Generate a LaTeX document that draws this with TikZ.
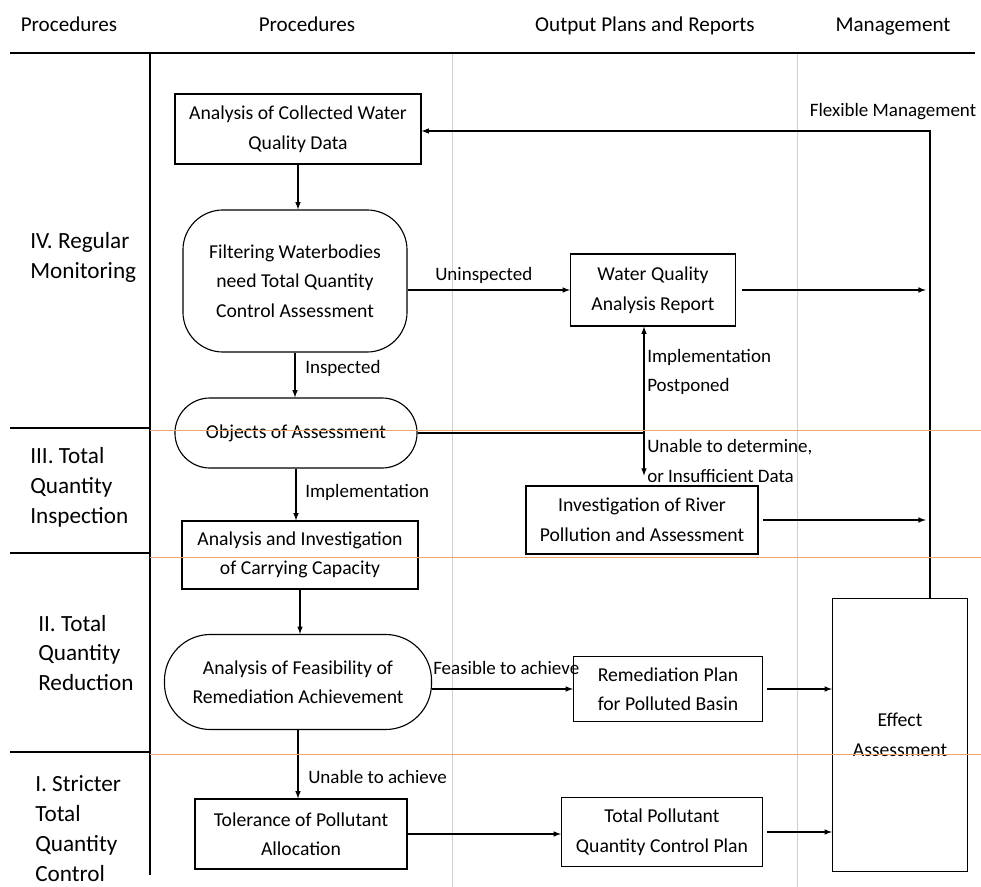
\documentclass[tikz,border=0pt]{standalone}
\usepackage{fontspec}
\setmainfont{Carlito}
\definecolor{rowline}{RGB}{238,165,115}
\definecolor{colline}{RGB}{208,208,208}
\tikzset{
  box/.style={draw, line width=0.8pt, align=center, inner sep=2pt, font=\fontsize{14}{21}\selectfont},
  lbl/.style={font=\fontsize{13.5}{21}\selectfont, inner sep=0pt, align=left},
  head/.style={font=\fontsize{15}{18}\selectfont, inner sep=0pt, anchor=base},
  stage/.style={font=\fontsize{16.5}{21.3}\selectfont, align=left, anchor=west, inner sep=0pt},
  link/.style={line width=0.8pt, ->},
}
\begin{document}
\begin{tikzpicture}[>=latex, x=0.025cm, y=-0.025cm]
\pgfmathsetmacro\mx{930}
\pgfmathsetmacro\jx{644}
\useasboundingbox (0,0) rectangle (981,887);
% table
\draw[colline, line width=0.6pt] (452,53) -- (452,887);
\draw[colline, line width=0.6pt] (797,53) -- (797,887);
\draw[line width=0.8pt] (10,53) -- (975,53);
\draw[line width=0.8pt] (150,53) -- (150,875);
\foreach \y in {428,553,752}
  \draw[line width=0.8pt] (10,\y) -- (150,\y);
\node[head] (hproc) at (69,32) {Procedures};
\node[head] (hsteps) at (307,32) {Procedures};
\node[head] (hout) at (645,32) {Output Plans and Reports};
\node[head] (hman) at (893,32) {Management};
\node[stage] (s4) at (30,257) {IV. Regular\\Monitoring};
\node[stage] (s3) at (30,487) {III. Total\\Quantity\\Inspection};
\node[stage] (s2) at (38,653) {II. Total\\Quantity\\Reduction};
\node[stage] (s1) at (35,829) {I. Stricter\\Total\\Quantity\\Control};
% procedures
\node[box, minimum width=6.15cm, minimum height=1.75cm] (acd) at (298,129) {Analysis of Collected Water\\Quality Data};
\node[box, rounded corners=1cm, minimum width=5.6cm, minimum height=3.55cm] (filt) at (295,281) {Filtering Waterbodies\\need Total Quantity\\Control Assessment};
\node[box, rounded corners=0.875cm, minimum width=6.05cm, minimum height=1.75cm] (obj) at (296,433) {Objects of Assessment};
\node[box, minimum width=5.9cm, minimum height=1.7cm] (carry) at (300,555) {Analysis and Investigation\\of Carrying Capacity};
\node[box, rounded corners=1.15cm, minimum width=6.675cm, minimum height=2.375cm] (feas) at (298,682) {Analysis of Feasibility of\\Remediation Achievement};
\node[box, minimum width=5.3cm, minimum height=1.75cm] (toler) at (301,834) {Tolerance of Pollutant\\Allocation};
% outputs
\node[box, minimum width=4.125cm, minimum height=1.8cm] (wqr) at (653,290) {Water Quality\\Analysis Report};
\node[box, minimum width=5.8cm, minimum height=1.7cm] (invest) at (642,520) {Investigation of River\\Pollution and Assessment};
\node[box, minimum width=4.725cm, minimum height=1.625cm] (remed) at (668,689) {Remediation Plan\\for Polluted Basin};
\node[box, minimum width=5.025cm, minimum height=1.725cm] (tpcp) at (662,832) {Total Pollutant\\Quantity Control Plan};
% management
\node[box, minimum width=3.375cm, minimum height=6.825cm] (effect) at (900,735) {Effect\\Assessment};
\coordinate (top) at (\mx,131);
\coordinate (jn) at (\jx,433);
% arrows
\draw[link] (acd.south) -- (acd.south |- filt.north);
\draw[link] (filt.south) -- (filt.south |- obj.north);
\draw[link] (obj.south) -- (obj.south |- carry.north);
\draw[link] (carry.south) -- (carry.south |- feas.north);
\draw[link] (feas.south) -- (feas.south |- toler.north);
\draw[link] (filt.east |- wqr.west) -- (wqr.west);
\draw[link] (feas.east |- remed.west) -- (remed.west);
\draw[link] (toler.east) -- (toler.east -| tpcp.west);
\draw[line width=0.8pt, <->, shorten >=7pt] (wqr.south -| jn) -- (invest.north -| jn);
\draw[line width=0.8pt] (obj.east) -- (jn);
\draw[link] (effect.north -| top) -- (top) -- (acd.east |- top);
\draw[link, shorten <=4pt, shorten >=3pt] (wqr.east) -- (wqr.east -| top);
\draw[link, shorten <=3pt, shorten >=3pt] (invest.east) -- (invest.east -| top);
\draw[link, shorten <=3pt] (remed.east) -- (remed.east -| effect.west);
\draw[link, shorten <=3pt] (tpcp.east) -- (tpcp.east -| effect.west);
% labels
\node[lbl, anchor=west] (inspd) at (305,368) {Inspected};
\node[lbl, anchor=west] (impl) at (305,492) {Implementation};
\node[lbl, anchor=west] (unach) at (308,777) {Unable to achieve};
\node[lbl, anchor=west] (uninsp) at (435,275) {Uninspected};
\node[lbl, anchor=west] (postp) at (647,372) {Implementation\\Postponed};
\node[lbl, anchor=west] (undet) at (647,461) {Unable to determine,\\or Insufficient Data};
\node[lbl, anchor=west] (feasl) at (433,668) {Feasible to achieve};
\node[lbl] (flex) at (893,112) {Flexible Management};
% row borders over everything
\foreach \y in {430,557,754}
  \draw[rowline, line width=0.5pt] (150,\y) -- (981,\y);
\end{tikzpicture}
\end{document}
